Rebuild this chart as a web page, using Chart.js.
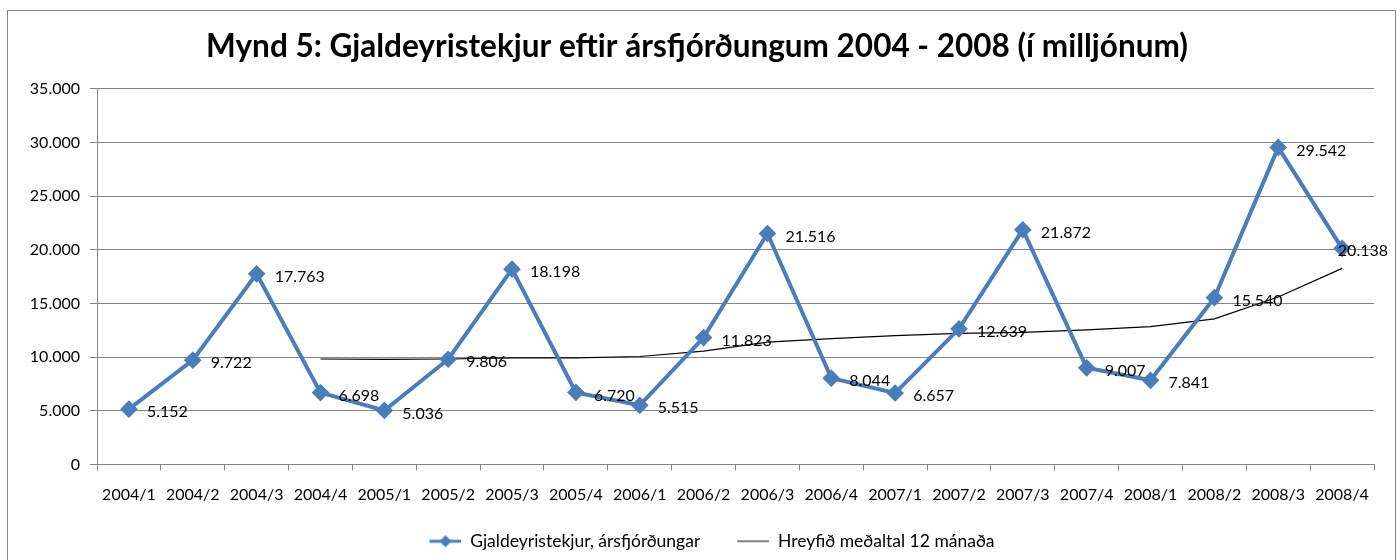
<!DOCTYPE html>
<html>
<head>
<meta charset="utf-8">
<script src="https://cdn.jsdelivr.net/npm/chart.js@4/dist/chart.umd.min.js"></script>
<style>
  html, body { margin: 0; padding: 0; background: #fff; }
  #wrap { width: 1400px; height: 560px; }
</style>
</head>
<body>
<div id="wrap"><canvas id="myChart" width="1400" height="560"></canvas></div>
<script>
const quarters = ['2004/1', '2004/2', '2004/3', '2004/4', '2005/1', '2005/2', '2005/3', '2005/4',
  '2006/1', '2006/2', '2006/3', '2006/4', '2007/1', '2007/2', '2007/3', '2007/4',
  '2008/1', '2008/2', '2008/3', '2008/4'];

const revenue = [5152, 9722, 17763, 6698, 5036, 9806, 18198, 6720, 5515, 11823,
  21516, 8044, 6657, 12639, 21872, 9007, 7841, 15540, 29542, 20138];

// 12 month moving average
const movingAvg = [null, null, null, 9830, 9800, 9830, 9940, 9940, 10060, 10570,
  11400, 11720, 12010, 12220, 12310, 12550, 12840, 13570, 15600, 18270];

const yTicks = [0, 5000, 10000, 15000, 20000, 25000, 30000, 35000];

const BLUE = '#4a7ebb';
const GREY = '#868686';
const FONT = 'Lato, "Open Sans", sans-serif';

function fmt(v) {
  return String(v).replace(/\B(?=(\d{3})+(?!\d))/g, '.');
}

// legend markers, left 30px kept empty as spacing between items
function marker(withDiamond, color, lw) {
  const c = document.createElement('canvas');
  c.width = 62; c.height = 14;
  const g = c.getContext('2d');
  g.strokeStyle = color;
  g.lineWidth = lw;
  g.beginPath(); g.moveTo(30, 7); g.lineTo(62, 7); g.stroke();
  if (withDiamond) {
    g.fillStyle = color;
    g.beginPath(); g.moveTo(46, 1); g.lineTo(52, 7); g.lineTo(46, 13); g.lineTo(40, 7); g.closePath(); g.fill();
  }
  return c;
}

const frame = {
  id: 'frame',
  beforeDraw(chart) {
    const ctx = chart.ctx;
    ctx.save();
    ctx.fillStyle = '#fff';
    ctx.fillRect(0, 0, chart.width, chart.height);
    ctx.strokeStyle = GREY;
    ctx.lineWidth = 1;
    ctx.strokeRect(7.5, 10.5, 1388, 560);
    ctx.restore();
  }
};

const valueLabels = {
  id: 'valueLabels',
  afterDatasetsDraw(chart) {
    const ctx = chart.ctx;
    const meta = chart.getDatasetMeta(0);
    ctx.save();
    ctx.font = '16px ' + FONT;
    ctx.fillStyle = '#000';
    ctx.textAlign = 'left';
    ctx.textBaseline = 'middle';
    meta.data.forEach((pt, i) => {
      const txt = fmt(revenue[i]);
      const w = ctx.measureText(txt).width;
      const x = Math.min(pt.x + 18, 1388 - w);
      ctx.fillText(txt, x, pt.y + 3);
    });
    ctx.restore();
  }
};

const ctx = document.getElementById('myChart').getContext('2d');

const config = {
  type: 'line',
  data: {
    labels: quarters,
    datasets: [{
      label: 'Gjaldeyristekjur, ársfjórðungar',
      data: revenue,
      borderColor: BLUE,
      backgroundColor: BLUE,
      borderWidth: 4,
      pointStyle: 'rectRot',
      pointRadius: 6,
      pointHoverRadius: 6,
      tension: 0
    }, {
      label: 'Hreyfið meðaltal 12 mánaða',
      data: movingAvg,
      borderColor: '#000',
      backgroundColor: '#000',
      borderWidth: 1.2,
      pointRadius: 0,
      tension: 0
    }]
  },
  options: {
    responsive: false,
    animation: false,
    layout: { padding: { left: 20, right: 26, top: 0, bottom: 0 } },
    plugins: {
      title: {
        display: true,
        text: 'Mynd 5: Gjaldeyristekjur eftir ársfjórðungum 2004 - 2008 (í milljónum)',
        color: '#000',
        font: { family: FONT, size: 31.5, weight: 'bold' },
        padding: { top: 28, bottom: 23 }
      },
      legend: {
        position: 'bottom',
        labels: {
          color: '#000',
          font: { family: FONT, size: 17.5 },
          usePointStyle: true,
          pointStyleWidth: 62,
          padding: 7,
          generateLabels(chart) {
            return [
              { text: chart.data.datasets[0].label, pointStyle: marker(true, BLUE, 3), datasetIndex: 0, lineWidth: 0, fontColor: '#000' },
              { text: chart.data.datasets[1].label, pointStyle: marker(false, '#000', 1), datasetIndex: 1, lineWidth: 0, fontColor: '#000' }
            ];
          }
        }
      },
      tooltip: { enabled: false }
    },
    scales: {
      x: {
        offset: true,
        grid: { offset: true, drawOnChartArea: false, drawTicks: true, tickLength: 6, color: GREY },
        border: { color: GREY, width: 1 },
        ticks: { color: '#000', font: { family: FONT, size: 16 }, padding: 15, maxRotation: 0, autoSkip: false },
        afterFit(scale) { scale.height = 61; }
      },
      y: {
        min: 0,
        max: 35000,
        afterBuildTicks(scale) { scale.ticks = yTicks.map(v => ({ value: v })); },
        grid: { color: GREY, tickLength: 7 },
        border: { color: GREY, width: 1 },
        ticks: { color: '#000', font: { family: FONT, size: 16 }, padding: 10, callback: v => fmt(v) },
        afterFit(scale) { scale.width = 77; }
      }
    }
  },
  plugins: [frame, valueLabels]
};

var myChart = new Chart(ctx, config);
</script>
</body>
</html>
